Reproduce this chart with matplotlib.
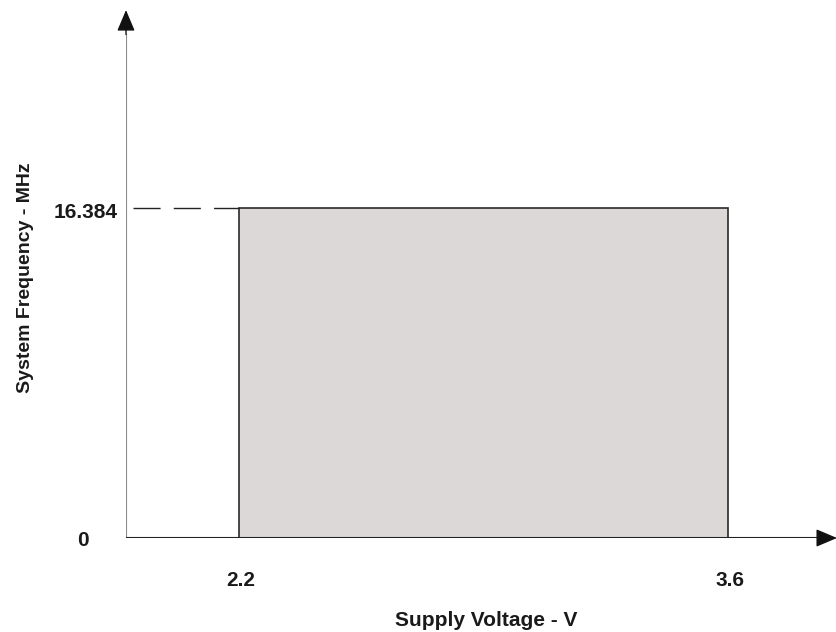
import matplotlib
matplotlib.use("Agg")
import matplotlib.pyplot as plt
from matplotlib.patches import Rectangle

# operating region
v_min, v_max = 2.2, 3.6          # supply voltage, V
f_max = 16.384                   # system frequency, MHz
x_ticks = [2.2, 3.6]
x_tick_labels = ["2.2", "3.6"]
y_ticks = [0, 16.384]
y_tick_labels = ["0", "16.384"]

plt.rcParams['font.family'] = ['Liberation Sans', 'DejaVu Sans']
txt_color = '#1a1a1a'

fig = plt.figure(figsize=(8.37, 6.32), dpi=100)
ax = fig.add_axes([126 / 837, 94 / 632, 1 - 126 / 837, 1 - 94 / 632])
x0, x1 = 1.8771, 3.9114
ax.set_xlim(x0, x1)
ax.set_ylim(0, 26.71)
ax.axis('off')

ax.add_patch(Rectangle((v_min, 0), v_max - v_min, f_max,
                       facecolor='#dcd8d8', edgecolor='#2a2a2a', linewidth=1.2))

# dashed lead-in to max frequency
ax.plot([1.897, v_min], [f_max, f_max], color='#222222', linewidth=1.0,
        dashes=(19.5, 9.5), dash_capstyle='butt')

# y axis: gray shaft, dark head
ax.plot([x0, x0], [0, 25.0], color='#8a8a8a', linewidth=1.5, solid_capstyle='butt')
ax.annotate('', xy=(x0, 26.21), xytext=(x0, 25.0),
            arrowprops=dict(arrowstyle='-|>,head_length=1.3,head_width=0.55',
                            color='#111111', lw=1.0, shrinkA=0, shrinkB=0))
# x axis
ax.plot([x0, 3.86], [0, 0], color='#222222', linewidth=1.5, solid_capstyle='butt')
ax.annotate('', xy=(x1, 0), xytext=(3.86, 0),
            arrowprops=dict(arrowstyle='-|>,head_length=1.3,head_width=0.55',
                            color='#111111', lw=1.0, shrinkA=0, shrinkB=0))

for xv, lab in zip(x_ticks, x_tick_labels):
    ax.annotate(lab, xy=(xv, 0), xytext=(2, -42), textcoords='offset pixels',
                ha='center', va='center', fontsize=15, fontweight='bold', color=txt_color)

ax.annotate(y_tick_labels[0], xy=(x0, y_ticks[0]), xytext=(-43, -3),
            textcoords='offset pixels', ha='center', va='center',
            fontsize=15, fontweight='bold', color=txt_color)
ax.annotate(y_tick_labels[1], xy=(x0, y_ticks[1]), xytext=(-8, -5),
            textcoords='offset pixels', ha='right', va='center',
            fontsize=15, fontweight='bold', color=txt_color)

fig.text(486 / 837, 1 - 620 / 632, "Supply Voltage - V", ha='center', va='center',
         fontsize=15, fontweight='bold', color=txt_color)
fig.text(26 / 837, 1 - 278 / 632, "System Frequency - MHz", ha='center', va='center',
         rotation=90, fontsize=14, fontweight='bold', color=txt_color)

fig.savefig("out.png", dpi=100)
